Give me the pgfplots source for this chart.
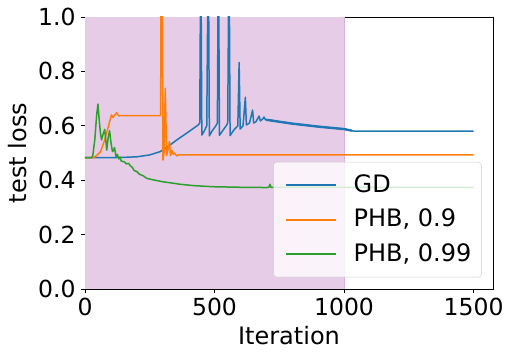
\documentclass[border=0pt]{standalone}
\usepackage{pgfplots}
\pgfplotsset{compat=1.18}
\usepackage{fontspec}
\setmainfont{DejaVu Sans}

\definecolor{gdblue}{HTML}{1F77B4}
\definecolor{phborange}{HTML}{FF7F0E}
\definecolor{phbgreen}{HTML}{2CA02C}
\definecolor{shade}{HTML}{E6CCE6}
\definecolor{shadeedge}{HTML}{D8B0D8}

\begin{document}
\begin{tikzpicture}
\begin{axis}[
    scale only axis,
    width=408pt, height=272pt,
    xmin=0, xmax=1575, ymin=0, ymax=1,
    xtick={0,500,1000,1500},
    ytick={0,0.2,0.4,0.6,0.8,1.0},
    /pgf/number format/assume math mode=true,
    /pgf/number format/1000 sep={},
    tick label style={font=\fontsize{23.5}{28}\selectfont},
    xticklabel style={yshift=-2pt},
    yticklabel style={xshift=-2pt, /pgf/number format/.cd, fixed, fixed zerofill, precision=1},
    label style={font=\fontsize{24}{28}\selectfont},
    xlabel={Iteration},
    ylabel={test loss},
    xlabel style={at={(axis description cs:0.5,-0.125)}, anchor=north},
    ylabel style={at={(axis description cs:-0.135,0.5)}, anchor=south},
    tick align=outside,
    tick pos=left,
    major tick length=4pt,
    every tick/.style={black, line width=0.8pt},
    axis line style={line width=0.8pt},
    legend cell align=left,
    legend style={
        at={(0.972,0.043)}, anchor=south east,
        draw=black!20, rounded corners=3pt,
        fill=white, fill opacity=0.8, text opacity=1, draw opacity=1,
        font=\fontsize{24}{28}\selectfont,
        inner xsep=7pt, inner ysep=9pt,
        row sep=6.5pt,
        nodes={text height=18pt, text depth=4pt, inner sep=3pt},
    },
    legend image code/.code={%
        \path (-4.5pt,0pt) (64pt,0pt);
        \draw[#1, line width=1.8pt, draw opacity=1] (0pt,0pt) -- (50pt,0pt);},
    lw/.style={line width=1.5pt, line join=round},
]
% shaded window
\addplot[draw=none, fill=shade, forget plot] coordinates {(0,1) (1000,1)} \closedcycle;
\addplot[shadeedge, line width=0.8pt, forget plot] coordinates {(1000,0) (1000,1)};

% GD
\addplot[gdblue, lw] coordinates {
(0,0.483) (50,0.483) (100,0.483) (150,0.484) (200,0.486) (250,0.493)
(290,0.505) (315,0.52) (350,0.545) (400,0.578) (437,0.603)
(443,0.61) (447,1.3) (451,0.566) (460,0.58) (470,0.6)
(476,1.3) (480,0.563) (490,0.58) (505,0.6) (511,0.61)
(515,1.3) (519,0.565) (530,0.58) (545,0.6) (551,0.61)
(556,1.3) (560,0.564) (575,0.585) (590,0.6) (595,0.833)
(599,0.588) (610,0.6) (619,0.705) (623,0.603) (635,0.61)
(647,0.658) (651,0.61) (660,0.615) (672,0.636) (677,0.618)
(686,0.625) (691,0.632) (697,0.622) (710,0.622) (750,0.615)
(800,0.608) (900,0.597) (1000,0.588) (1040,0.580) (1100,0.58) (1500,0.58)
};
\addlegendentry{GD}
% noisy stretch of GD reads thicker
\addplot[gdblue, line width=2.4pt, forget plot] coordinates {
(700,0.622) (750,0.615) (800,0.608) (900,0.597) (1000,0.588) (1030,0.582)
};

% PHB, 0.9
\addplot[phborange, lw] coordinates {
(0,0.483) (30,0.483) (40,0.487) (50,0.495) (60,0.505) (76,0.548)
(93,0.608) (102,0.64) (108,0.631) (115,0.64) (122,0.648) (130,0.636)
(140,0.638) (150,0.637) (292,0.637) (294,1.3) (298,1.3) (301,0.474)
(305,0.5) (310,0.738) (315,0.49) (320,0.51) (326,0.542) (330,0.49)
(335,0.51) (340,0.495) (345,0.5) (354,0.489) (360,0.493) (1500,0.493)
};
\addlegendentry{PHB, 0.9}

% PHB, 0.99
\addplot[phbgreen, lw] coordinates {
(0,0.483) (25,0.483) (30,0.49) (38,0.55) (45,0.64) (50,0.68)
(55,0.62) (60,0.57) (64,0.548) (70,0.57) (76,0.587) (80,0.55)
(84,0.511) (90,0.56) (95,0.582) (100,0.54) (106,0.505) (110,0.51)
(114,0.52) (120,0.485) (125,0.495) (130,0.478) (135,0.485) (140,0.47)
(151,0.468) (160,0.46) (168,0.462) (176,0.452) (183,0.447) (190,0.435)
(200,0.432) (210,0.422) (225,0.416) (238,0.407) (255,0.403) (270,0.4)
(302,0.394) (340,0.389) (367,0.385) (420,0.38) (495,0.376) (600,0.374)
(700,0.373) (710,0.374) (714,0.385) (718,0.374) (1000,0.374) (1500,0.374)
};
\addlegendentry{PHB, 0.99}
\end{axis}
\pgfresetboundingbox
\path (-85pt,-70pt) rectangle (430pt,289pt);
\end{tikzpicture}
\end{document}
